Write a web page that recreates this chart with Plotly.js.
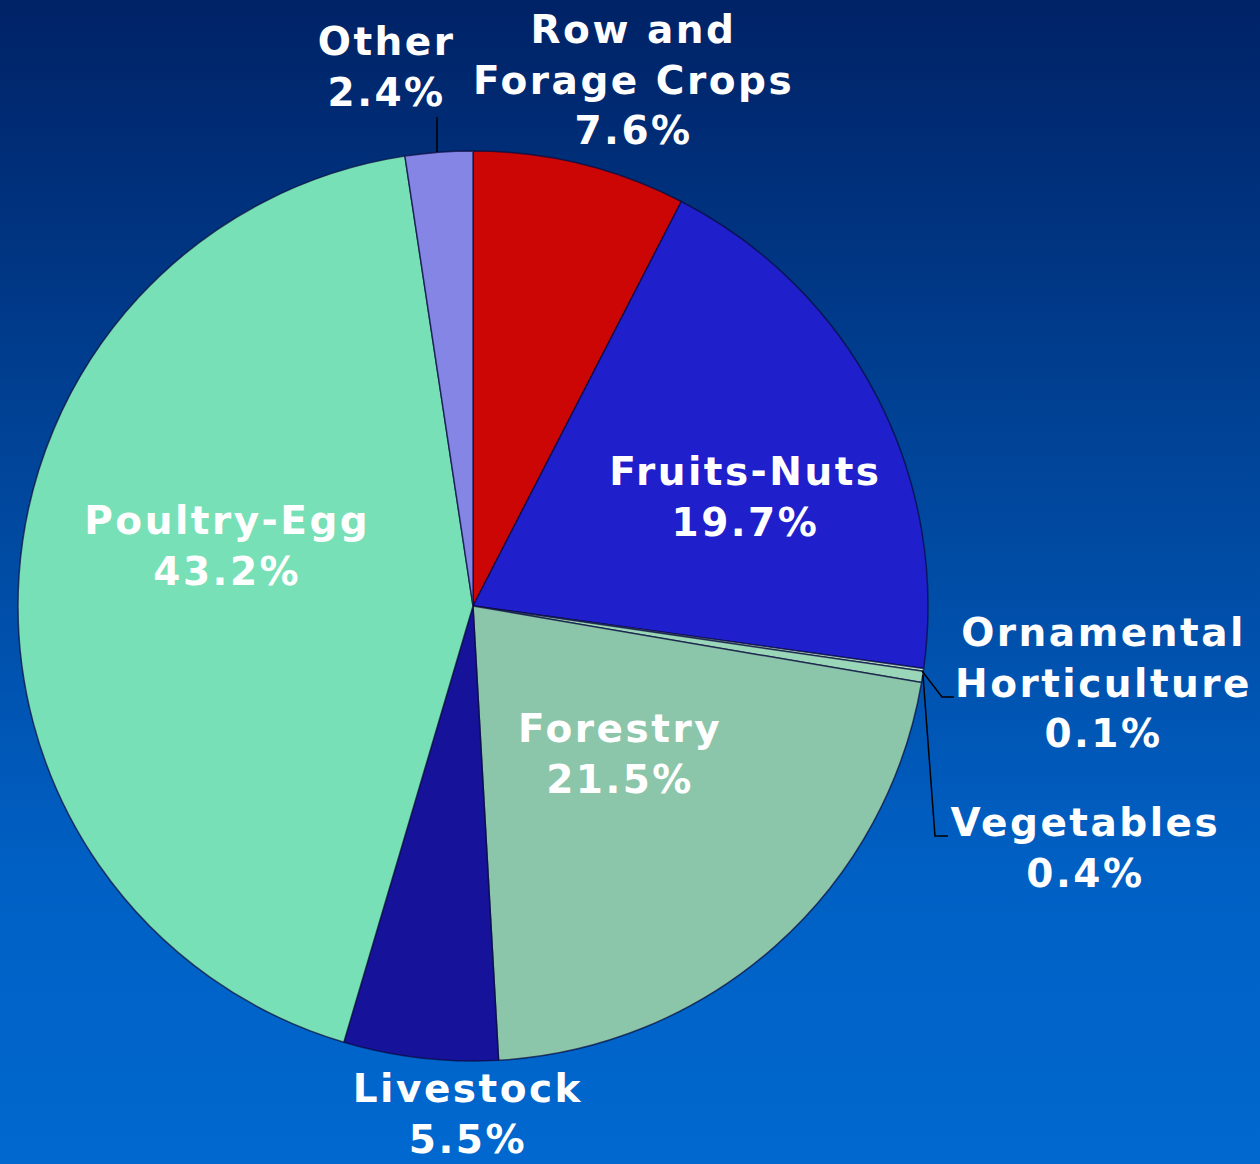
<!DOCTYPE html>
<html>
<head>
<meta charset="utf-8">
<script src="https://cdn.plot.ly/plotly-3.0.1.min.js"></script>
<style>
  html, body { margin: 0; padding: 0; width: 1260px; height: 1164px; overflow: hidden;
    background: linear-gradient(to bottom, #002266 0%, #00459a 40%, #0060c4 75%, #0068cf 100%); }
  #chart { width: 1260px; height: 1164px; }
  #chart .annotation-text { letter-spacing: 2.5px; }
</style>
</head>
<body>
<div id="chart"></div>
<script>
// ---- data ----
const categories = ["Row and Forage Crops", "Fruits-Nuts", "Ornamental Horticulture", "Vegetables",
                    "Forestry", "Livestock", "Poultry-Egg", "Other"];
const labelLines = ["Row and<br>Forage Crops", "Fruits-Nuts", "Ornamental<br>Horticulture", "Vegetables",
                    "Forestry", "Livestock", "Poultry-Egg", "Other"];
const shares = [7.6, 19.7, 0.1, 0.4, 21.5, 5.5, 43.2, 2.4];

// ---- styles ----
const sliceColors = ["#cc0505", "#1f1fcc", "#b8e8d0", "#9ad6b8", "#8cc6aa", "#16129a", "#78e0b6", "#8585e6"];
// label centres in page pixels (layout only)
const labelPos = [[633, 80], [745, 497], [1103, 683], [1085, 848], [620, 754], [468, 1114], [227, 546], [387, 67]];

const W = 1260, H = 1164;
const cx = 473, cy = 606, R = 455;

const trace = {
  type: "pie",
  labels: categories,
  values: shares,
  sort: false,
  direction: "clockwise",
  rotation: 0,
  textinfo: "none",
  hoverinfo: "label+percent",
  marker: { colors: sliceColors, line: { color: "rgba(10,10,60,0.7)", width: 1.5 } },
  domain: { x: [(cx - R) / W, (cx + R) / W], y: [(H - cy - R) / H, (H - cy + R) / H] }
};

const annotations = categories.map((c, i) => ({
  xref: "paper", yref: "paper",
  x: labelPos[i][0] / W, y: 1 - labelPos[i][1] / H,
  xanchor: "center", yanchor: "middle",
  showarrow: false,
  text: labelLines[i] + "<br>" + shares[i].toFixed(1) + "%",
  font: { family: "DejaVu Sans, Verdana, sans-serif", size: 39, color: "#ffffff", weight: "bold" },
  align: "center"
}));

function px(x) { return x / W; }
function py(y) { return 1 - y / H; }
function path(pts) { return "M" + pts.map(p => px(p[0]) + "," + py(p[1])).join(" L"); }

const leader = { color: "#000000", width: 1.5 };
const shapes = [
  { type: "path", xref: "paper", yref: "paper", path: path([[437, 152], [437, 117]]), line: leader },
  { type: "path", xref: "paper", yref: "paper", path: path([[922, 671], [942, 697], [954, 697]]), line: leader },
  { type: "path", xref: "paper", yref: "paper", path: path([[923, 675], [935, 836], [948, 836]]), line: leader }
];

const layout = {
  width: W, height: H,
  margin: { l: 0, r: 0, t: 0, b: 0 },
  paper_bgcolor: "rgba(0,0,0,0)",
  plot_bgcolor: "rgba(0,0,0,0)",
  showlegend: false,
  annotations: annotations,
  shapes: shapes
};

Plotly.newPlot("chart", [trace], layout, { displayModeBar: false, staticPlot: true });
</script>
</body>
</html>
